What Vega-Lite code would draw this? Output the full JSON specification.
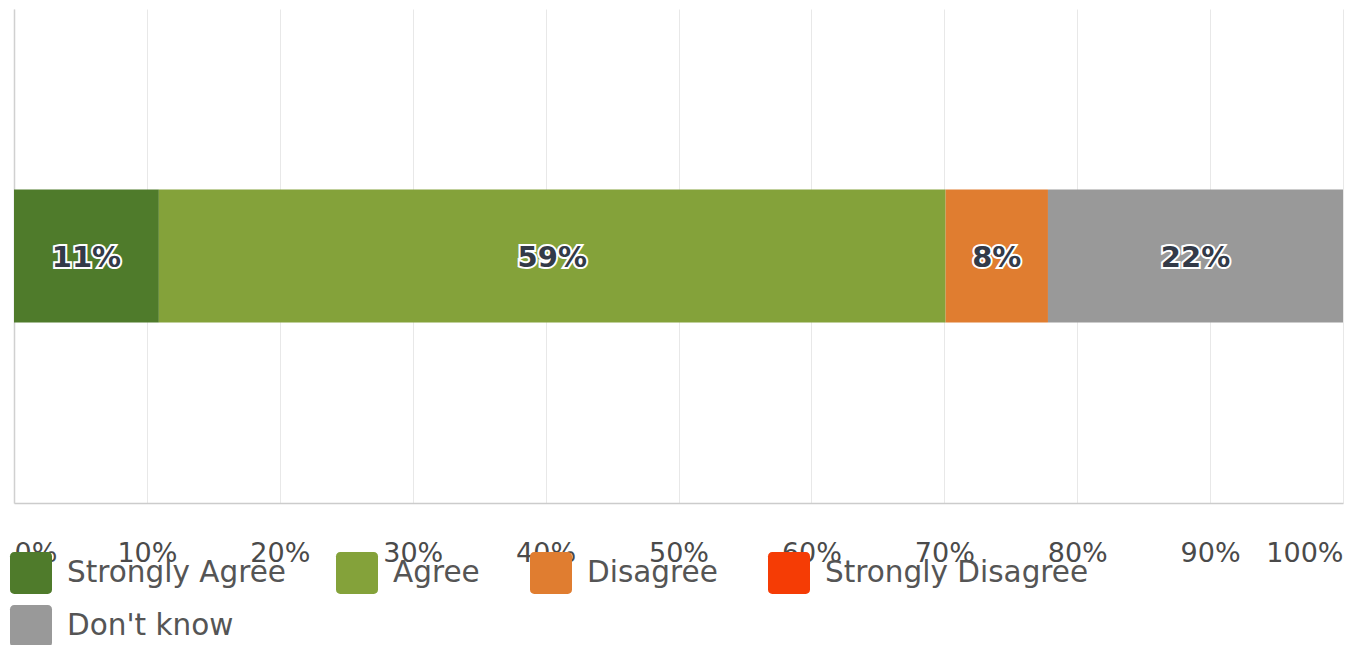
{
  "$schema": "https://vega.github.io/schema/vega-lite/v6.json",
  "width": 1329,
  "height": 494,
  "autosize": {"type": "none"},
  "padding": {"left": 14, "top": 9, "right": 6, "bottom": 142},
  "config": {"view": {"stroke": null}, "font": "DejaVu Sans"},
  "data": {
    "values": [
      {"q": "Q", "answer": "Strongly Agree", "idx": 1, "pct": 0.109},
      {"q": "Q", "answer": "Agree", "idx": 2, "pct": 0.592},
      {"q": "Q", "answer": "Disagree", "idx": 3, "pct": 0.077},
      {"q": "Q", "answer": "Strongly Disagree", "idx": 4, "pct": 0},
      {"q": "Q", "answer": "Don't know", "idx": 5, "pct": 0.222}
    ]
  },
  "encoding": {
    "y": {
      "field": "q",
      "type": "nominal",
      "axis": {"labels": false, "ticks": false, "title": null, "domainColor": "#d0d0d0", "domainWidth": 1.5, "grid": false}
    }
  },
  "layer": [
    {
      "mark": {"type": "bar", "height": 133},
      "encoding": {
        "x": {
          "field": "pct",
          "type": "quantitative",
          "stack": "zero",
          "scale": {"domain": [0, 1], "nice": false},
          "axis": {
            "values": [0, 0.1, 0.2, 0.3, 0.4, 0.5, 0.6, 0.7, 0.8, 0.9, 1],
            "format": ".0%",
            "labelFlush": true,
            "ticks": false,
            "domainColor": "#cccccc",
            "domainWidth": 1.5,
            "gridColor": "#e8e8e8",
            "labelFont": "DejaVu Sans",
            "labelFontSize": 27,
            "labelColor": "#4a4a4a",
            "labelPadding": 37,
            "title": null
          }
        },
        "color": {
          "field": "answer",
          "type": "nominal",
          "scale": {
            "domain": ["Strongly Agree", "Agree", "Disagree", "Strongly Disagree", "Don't know"],
            "range": ["#4f7b2b", "#84a23a", "#e07d30", "#f53c05", "#999999"]
          },
          "legend": {
            "title": null,
            "orient": "none",
            "legendX": -4,
            "legendY": 543,
            "direction": "horizontal",
            "columns": 4,
            "gridAlign": "none",
            "columnPadding": 50,
            "rowPadding": 11,
            "symbolType": "M-0.8,-1H0.8A0.2,0.2 0 0 1 1,-0.8V0.8A0.2,0.2 0 0 1 0.8,1H-0.8A0.2,0.2 0 0 1 -1,0.8V-0.8A0.2,0.2 0 0 1 -0.8,-1Z",
            "symbolSize": 1764,
            "symbolStrokeWidth": 0,
            "symbolOpacity": 1,
            "labelFont": "DejaVu Sans",
            "labelFontSize": 29.5,
            "labelColor": "#555555",
            "labelOffset": 15,
            "labelLimit": 500
          }
        },
        "order": {"field": "idx", "type": "quantitative"}
      }
    },
    {
      "transform": [
        {"stack": "pct", "groupby": ["q"], "sort": [{"field": "idx", "order": "ascending"}], "as": ["x0", "x1"]},
        {"fold": ["x0", "x1"], "as": ["k", "pos"]},
        {"aggregate": [{"op": "mean", "field": "pos", "as": "mid"}], "groupby": ["q", "answer", "pct", "idx"]},
        {"filter": "datum.pct > 0"}
      ],
      "encoding": {
        "x": {"field": "mid", "type": "quantitative"},
        "text": {"field": "pct", "type": "quantitative", "format": ".0%"}
      },
      "layer": [
        {
          "mark": {"type": "text", "font": "DejaVu Sans", "fontSize": 29, "fontWeight": "bold", "stroke": "white", "strokeWidth": 4, "fill": "white", "letterSpacing": -1, "dy": 2}
        },
        {
          "mark": {"type": "text", "font": "DejaVu Sans", "fontSize": 29, "fontWeight": "bold", "fill": "#333a48", "letterSpacing": -1, "dy": 2}
        }
      ]
    }
  ]
}
